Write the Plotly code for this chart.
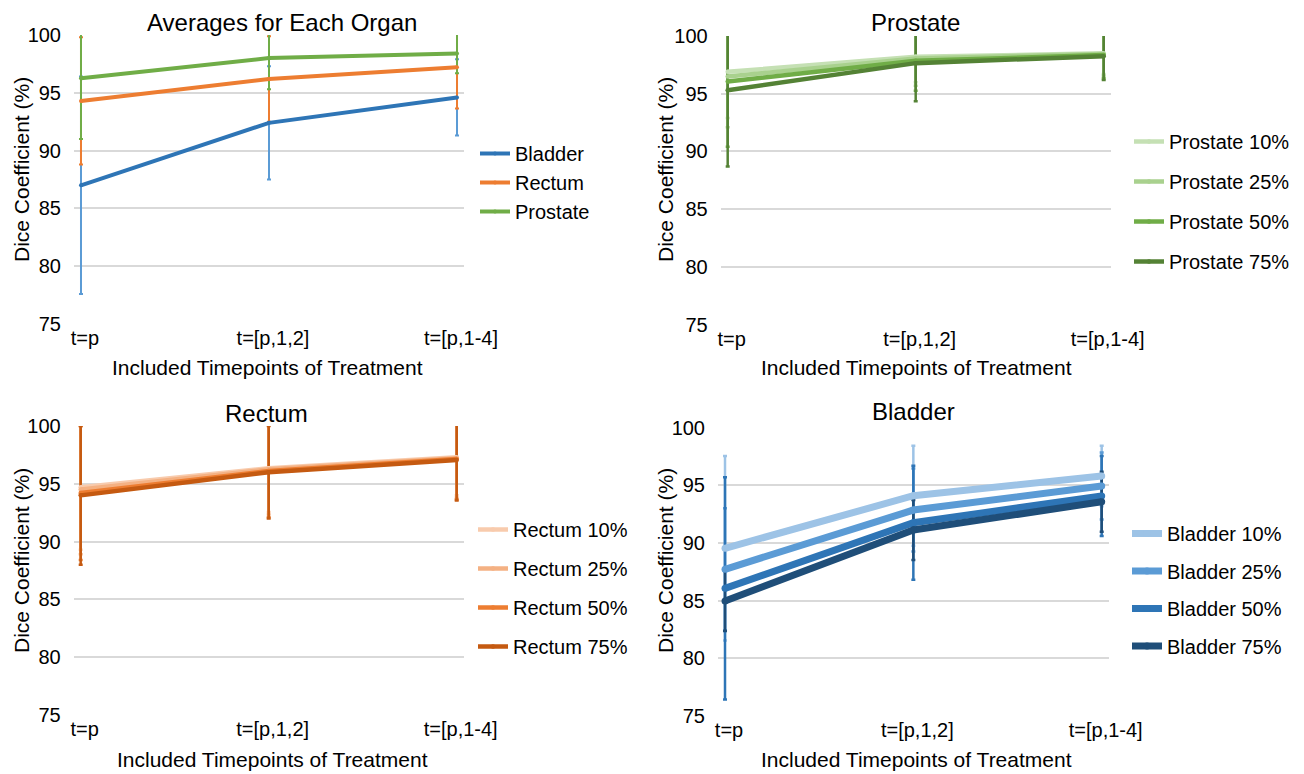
import plotly.graph_objects as go

# ---------------- data ----------------
categories = ["t=p", "t=[p,1,2]", "t=[p,1-4]"]
y_ticks = [75, 80, 85, 90, 95, 100]

# Averages for each organ
avg_names = ["Bladder", "Rectum", "Prostate"]
avg_bladder = [87.0, 92.4, 94.6]
avg_bladder_err = [9.4, 4.9, 3.3]
avg_rectum = [94.3, 96.2, 97.2]
avg_rectum_err = [5.5, 3.7, 3.55]
avg_prostate = [96.25, 98.0, 98.4]
avg_prostate_err = [5.25, 2.7, 1.7]

levels = ["10%", "25%", "50%", "75%"]

# Prostate
prostate_10 = [96.9, 98.2, 98.5]
prostate_10_err = [4.0, 2.2, 1.8]
prostate_25 = [96.5, 98.05, 98.45]
prostate_25_err = [4.4, 2.35, 1.9]
prostate_50 = [96.05, 97.85, 98.35]
prostate_50_err = [5.65, 2.6, 2.0]
prostate_75 = [95.3, 97.65, 98.25]
prostate_75_err = [6.6, 3.3, 2.05]

# Rectum
rectum_10 = [94.7, 96.35, 97.3]
rectum_10_err = [5.4, 3.8, 3.3]
rectum_25 = [94.5, 96.25, 97.2]
rectum_25_err = [5.6, 3.9, 3.4]
rectum_50 = [94.2, 96.1, 97.15]
rectum_50_err = [5.8, 4.0, 3.5]
rectum_75 = [94.0, 96.0, 97.06]
rectum_75_err = [6.0, 4.0, 3.5]

# Bladder
bladder_10 = [89.54, 94.1, 95.81]
bladder_10_err = [8.0, 4.34, 2.63]
bladder_25 = [87.72, 92.86, 94.94]
bladder_25_err = [5.3, 3.6, 2.9]
bladder_50 = [86.07, 91.76, 94.08]
bladder_50_err = [9.63, 4.95, 3.47]
bladder_75 = [84.97, 91.13, 93.58]
bladder_75_err = [2.6, 2.6, 2.6]

# ---------------- styles ----------------
# the page body has an 8px margin, so the figure is made 8px smaller and
# every page-pixel position below is shifted by that offset
OFF = 8
W, H = 1304 - OFF, 774 - OFF
FONT = "Liberation Sans, Arial, sans-serif"
GRID = "#d9d9d9"

avg_colors = ["#2e75b6", "#ed7d31", "#70ad47"]
avg_err_colors = ["#5b9bd5", "#ed7d31", "#70ad47"]
green_colors = ["#c5e0b4", "#a9d18e", "#70ad47", "#548235"]
orange_colors = ["#f8cbad", "#f4b183", "#ed7d31", "#c55a11"]
blue_colors = ["#9dc3e6", "#5b9bd5", "#2e75b6", "#1f4e79"]


def px_x(v):
    return (v - OFF) / W


def px_y(v):
    return 1 - (v - OFF) / H


fig = go.Figure()

panels = [
    ("", "legend", avg_names,
     [avg_bladder, avg_rectum, avg_prostate],
     [avg_bladder_err, avg_rectum_err, avg_prostate_err],
     avg_colors, avg_err_colors, 4, 2),
    ("2", "legend2", ["Prostate " + l for l in levels],
     [prostate_10, prostate_25, prostate_50, prostate_75],
     [prostate_10_err, prostate_25_err, prostate_50_err, prostate_75_err],
     green_colors, green_colors, 4.5, 2.5),
    ("3", "legend3", ["Rectum " + l for l in levels],
     [rectum_10, rectum_25, rectum_50, rectum_75],
     [rectum_10_err, rectum_25_err, rectum_50_err, rectum_75_err],
     orange_colors, orange_colors, 4.5, 2.5),
    ("4", "legend4", ["Bladder " + l for l in levels],
     [bladder_10, bladder_25, bladder_50, bladder_75],
     [bladder_10_err, bladder_25_err, bladder_50_err, bladder_75_err],
     blue_colors, blue_colors, 7, 2.5),
]

for suf, leg, names, vals, errs, cols, ecols, lw, ew in panels:
    xa, ya = "x" + suf, "y" + suf
    for v, e, c in zip(vals, errs, ecols):
        fig.add_trace(go.Scatter(
            x=categories, y=v, mode="markers", xaxis=xa, yaxis=ya,
            marker=dict(size=1, opacity=0, color=c),
            error_y=dict(type="data", array=e, symmetric=True, color=c,
                         thickness=ew, width=2),
            showlegend=False, hoverinfo="skip"))
    for n, v, c in zip(names, vals, cols):
        fig.add_trace(go.Scatter(
            x=categories, y=v, mode="lines+markers", name=n,
            xaxis=xa, yaxis=ya, legend=leg, legendgroup=n,
            line=dict(color=c, width=lw),
            marker=dict(color=c, size=lw)))

domains = {
    "": ((74, 464), (35, 324)),
    "2": ((720.7, 1110.7), (36, 324.7)),
    "3": ((73.7, 463.7), (426, 715)),
    "4": ((718, 1108.7), (427.7, 716)),
}

layout = dict(
    template="none",
    width=W, height=H,
    margin=dict(l=0, r=0, t=0, b=0, pad=0, autoexpand=False),
    paper_bgcolor="white", plot_bgcolor="white",
    font=dict(family=FONT, color="#000000", size=20),
    showlegend=True,
)

for suf, ((x0, x1), (y0, y1)) in domains.items():
    layout["xaxis" + suf] = dict(
        domain=[px_x(x0), px_x(x1)],
        anchor="y" + suf,
        type="category",
        range=[-0.0372, 2.0372],
        showgrid=False, zeroline=False, showline=False,
        ticks="",
        tickfont=dict(size=20, family=FONT, color="#000000"),
        ticklabelshift=4,
        automargin=False,
        fixedrange=True,
    )
    layout["yaxis" + suf] = dict(
        domain=[px_y(y1), px_y(y0)],
        anchor="x" + suf,
        range=[75, 100],
        tickvals=y_ticks,
        showgrid=True, gridcolor=GRID, gridwidth=1.5,
        zeroline=False, showline=False,
        ticks="outside", ticklen=8, tickcolor="rgba(0,0,0,0)",
        tickfont=dict(size=20, family=FONT, color="#000000"),
        automargin=False,
        fixedrange=True,
    )

legend_specs = {
    "legend": (475, 134, 0),
    "legend2": (1129, 122, 11),
    "legend3": (473, 510, 10),
    "legend4": (1127, 514, 8.5),
}
for lid, (lx, ly, gap) in legend_specs.items():
    layout[lid] = dict(
        x=px_x(lx), y=px_y(ly), xanchor="left", yanchor="top",
        bgcolor="rgba(0,0,0,0)", borderwidth=0,
        font=dict(size=20, family=FONT, color="#000000"),
        tracegroupgap=gap, itemwidth=30, traceorder="grouped",
    )

fig.update_layout(**layout)

titles = [
    ("Averages for Each Organ", 282, 22.5),
    ("Prostate", 915, 22.5),
    ("Rectum", 266, 413),
    ("Bladder", 913, 411),
]
xtitles = [(267, 367), (917, 367), (272, 759), (917, 759)]
ytitles = [(21, 170), (665, 170), (21, 561), (665, 561)]

ann = []
for t, x, y in titles:
    ann.append(dict(text=t, x=px_x(x), y=px_y(y), xref="paper", yref="paper",
                    xanchor="center", yanchor="middle", showarrow=False, borderpad=0,
                    font=dict(size=24, family=FONT, color="#000000")))
for x, y in xtitles:
    ann.append(dict(text="Included Timepoints of Treatment", x=px_x(x), y=px_y(y),
                    xref="paper", yref="paper", xanchor="center", yanchor="middle",
                    showarrow=False, borderpad=0,
                    font=dict(size=21, family=FONT, color="#000000")))
for x, y in ytitles:
    ann.append(dict(text="Dice Coefficient (%)", x=px_x(x), y=px_y(y), textangle=-90,
                    xref="paper", yref="paper", xanchor="center", yanchor="middle",
                    showarrow=False, borderpad=0,
                    font=dict(size=21, family=FONT, color="#000000")))
fig.update_layout(annotations=ann)

fig.write_html("out.html")
